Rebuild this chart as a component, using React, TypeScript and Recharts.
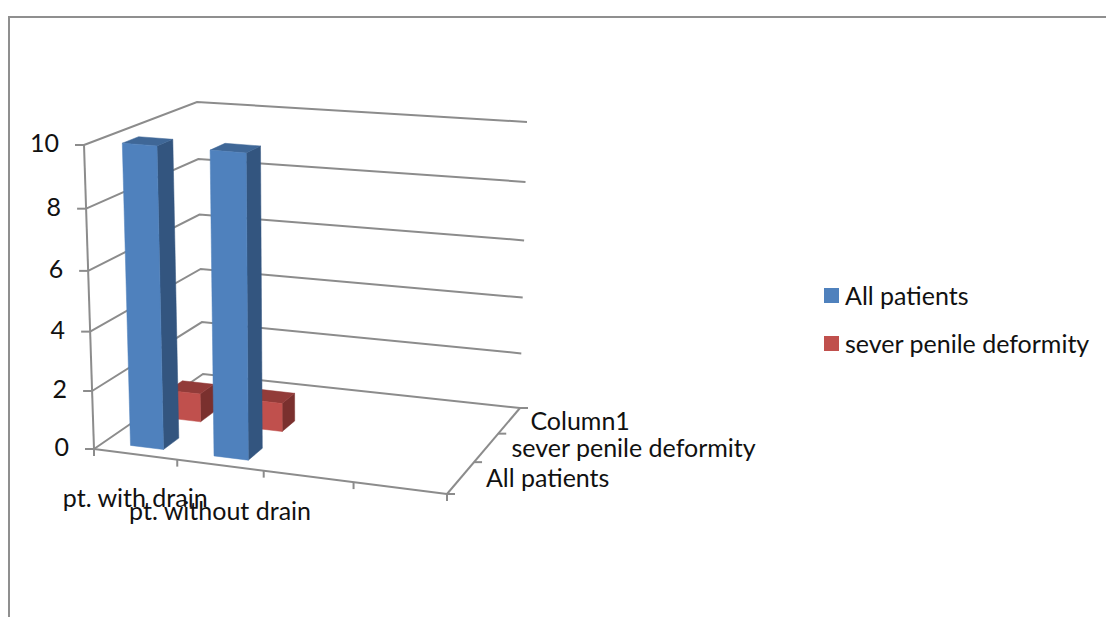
import { BarChart, Bar, XAxis, YAxis, CartesianGrid, Legend } from "recharts";

const categories = ["pt. with drain", "pt. without drain", "", ""];
const allPatients = [10, 10, null, null];
const severDeformity = [1, 1, null, null];
const depthLabels = ["All patients", "sever penile deformity", "Column1"];
const valueTicks = [0, 2, 4, 6, 8, 10];

const data = categories.map((name, i) => ({
  name,
  all: allPatients[i],
  sever: severDeformity[i],
}));

const FONT = "Lato, Carlito, sans-serif";
const FONT_SIZE = 25;
const AXIS_GREY = "#8c8c8c";
const TEXT = "#111";
const AXIS_W = 2;

// flat plot box handed to recharts, warp() below turns it into the 3d box
const PLOT = { left: 100, top: 100, width: 400, height: 300 };

type Pt = [number, number];
// screen corners of the 3d box: [cat, depth, value]
const C000: Pt = [94, 449];
const C100: Pt = [447, 494];
const C010: Pt = [203, 374];
const C110: Pt = [520, 408];
const C001: Pt = [84, 145];
const C101: Pt = [456, 175];
const C011: Pt = [197, 102];
const C111: Pt = [527, 122];

const persp = (t: number, a: number) => t / (t + (1 - t) * a);
const mix = (a: Pt, b: Pt, t: number): Pt => [a[0] + (b[0] - a[0]) * t, a[1] + (b[1] - a[1]) * t];

function warp(u: number, d: number, v: number): Pt {
  const pu = persp(u, 1.08);
  const pd = persp(d, 0.85);
  const pv = persp(v, 1.06);
  const bottom = mix(mix(C000, C100, pu), mix(C010, C110, pu), pd);
  const top = mix(mix(C001, C101, pu), mix(C011, C111, pu), pd);
  return mix(bottom, top, pv);
}

const toU = (x: number) => (x - PLOT.left) / PLOT.width;
const toV = (y: number) => (PLOT.top + PLOT.height - y) / PLOT.height;
const pts = (list: Pt[]) => list.map((p) => `${p[0].toFixed(1)},${p[1].toFixed(1)}`).join(" ");

const makeBox = (depthIndex: number, front: string, side: string, lid: string) => (props: any) => {
  const { x, y, width, height } = props;
  if (!height || height <= 0) return <g />;
  const u0 = toU(x) + 0.006;
  const u1 = toU(x + width) + 0.006;
  const v1 = toV(y);
  const d0 = (depthIndex + 0.24) / depthLabels.length;
  const d1 = (depthIndex + 0.64) / depthLabels.length;
  return (
    <g>
      <polygon fill={side} stroke={side} strokeWidth={0.5} points={pts([warp(u1, d0, 0), warp(u1, d1, 0), warp(u1, d1, v1), warp(u1, d0, v1)])} />
      <polygon fill={lid} stroke={lid} strokeWidth={0.5} points={pts([warp(u0, d0, v1), warp(u1, d0, v1), warp(u1, d1, v1), warp(u0, d1, v1)])} />
      <polygon fill={front} stroke={front} strokeWidth={0.5} points={pts([warp(u0, d0, 0), warp(u1, d0, 0), warp(u1, d0, v1), warp(u0, d0, v1)])} />
    </g>
  );
};

const WallLine = (props: any) => {
  const v = toV(props.y1);
  return (
    <polyline
      key={props.key}
      fill="none"
      stroke={AXIS_GREY}
      strokeWidth={AXIS_W}
      points={pts([warp(0, 0, v), warp(0, 1, v), warp(1, 1, v)])}
    />
  );
};

const ValueTick = (props: any) => {
  const [x, y] = warp(0, 0, toV(props.y));
  return (
    <g>
      <line x1={x - 9} x2={x} y1={y} y2={y} stroke={AXIS_GREY} strokeWidth={AXIS_W} />
      <text x={x - 25} y={y + 1} textAnchor="end" dominantBaseline="middle" fontFamily={FONT} fontSize={FONT_SIZE} fill={TEXT}>
        {props.payload.value}
      </text>
    </g>
  );
};

const CategoryTick = (props: any) => {
  if (!props.payload.value) return <g />;
  const [x, y] = warp(toU(props.x), 0, 0);
  return (
    <text x={x} y={y + 46 + props.index * 3} textAnchor="middle" dominantBaseline="middle" fontFamily={FONT} fontSize={FONT_SIZE} fill={TEXT}>
      {props.payload.value}
    </text>
  );
};

// axis lines and the depth axis, recharts has no third dimension for these
const BoxFrame = () => {
  const line = (a: Pt, b: Pt, key: string) => (
    <line key={key} x1={a[0]} y1={a[1]} x2={b[0]} y2={b[1]} stroke={AXIS_GREY} strokeWidth={AXIS_W} />
  );
  const frontRight = warp(1, 0, 0);
  const backRight = warp(1, 1, 0);
  return (
    <g>
      {line(warp(0, 0, 0), warp(0, 0, 1), "value-axis")}
      {line(warp(0, 0, 0), frontRight, "cat-axis")}
      {line(frontRight, backRight, "depth-axis")}
      {categories.map((_, i) => {
        const p = warp(i / categories.length, 0, 0);
        return line(p, [p[0], p[1] + 7], `c${i}`);
      })}
      {line(frontRight, [frontRight[0], frontRight[1] + 7], "c-end")}
      {depthLabels.map((_, i) => {
        const p = warp(1, i / depthLabels.length, 0);
        return line(p, [p[0] + 8, p[1]], `d${i}`);
      })}
      {line(backRight, [backRight[0] + 8, backRight[1]], "d-end")}
      {depthLabels.map((label, i) => {
        const p = warp(1, (i + 0.5) / depthLabels.length, 0);
        return (
          <text key={label} x={p[0] + (i === 2 ? 21 : 25)} y={p[1] + 3} dominantBaseline="middle" fontFamily={FONT} fontSize={FONT_SIZE} fill={TEXT}>
            {label}
          </text>
        );
      })}
    </g>
  );
};

const LegendBox = ({ payload }: any) => (
  <div style={{ fontFamily: FONT, fontSize: FONT_SIZE, color: TEXT }}>
    {(payload || []).map((item: any) => (
      <div key={item.value} style={{ display: "flex", alignItems: "center", height: 48, whiteSpace: "nowrap" }}>
        <span style={{ width: 15, height: 15, background: item.color, marginRight: 6 }} />
        {item.value}
      </div>
    ))}
  </div>
);

export default function App() {
  return (
    <div style={{ position: "absolute", left: 0, top: 0, width: 1106, height: 617, overflow: "hidden", background: "#fff" }}>
      <div
        style={{
          position: "absolute",
          left: 8,
          top: 16,
          width: 1200,
          height: 800,
          borderTop: "2px solid #8f8f8f",
          borderLeft: "2px solid #8f8f8f",
        }}
      />
      <BarChart
        width={1106}
        height={617}
        data={data}
        barCategoryGap="30%"
        margin={{ left: PLOT.left - 1, top: PLOT.top, right: 1106 - PLOT.left - PLOT.width, bottom: 617 - PLOT.top - PLOT.height - 1 }}
        style={{ position: "absolute", left: 0, top: 0 }}
      >
        <CartesianGrid vertical={false} horizontal={WallLine} />
        <XAxis dataKey="name" height={1} axisLine={false} tickLine={false} interval={0} tick={CategoryTick} />
        <XAxis dataKey="name" xAxisId="depth2" hide />
        <YAxis width={1} domain={[0, 10]} ticks={valueTicks} axisLine={false} tickLine={false} tick={ValueTick} />
        <BoxFrame />
        <Bar
          dataKey="sever"
          name="sever penile deformity"
          xAxisId="depth2"
          fill="#C0504D"
          isAnimationActive={false}
          shape={makeBox(1, "#C0504D", "#7A302E", "#923B39")}
        />
        <Bar
          dataKey="all"
          name="All patients"
          fill="#4F81BD"
          isAnimationActive={false}
          shape={makeBox(0, "#4F81BD", "#33557F", "#3F6797")}
        />
        <Legend
          layout="vertical"
          align="center"
          verticalAlign="middle"
          content={LegendBox}
          itemSorter={(item: any) => (item.value === "All patients" ? 0 : 1)}
          wrapperStyle={{ left: 824, top: 271, width: 280 }}
        />
      </BarChart>
    </div>
  );
}
